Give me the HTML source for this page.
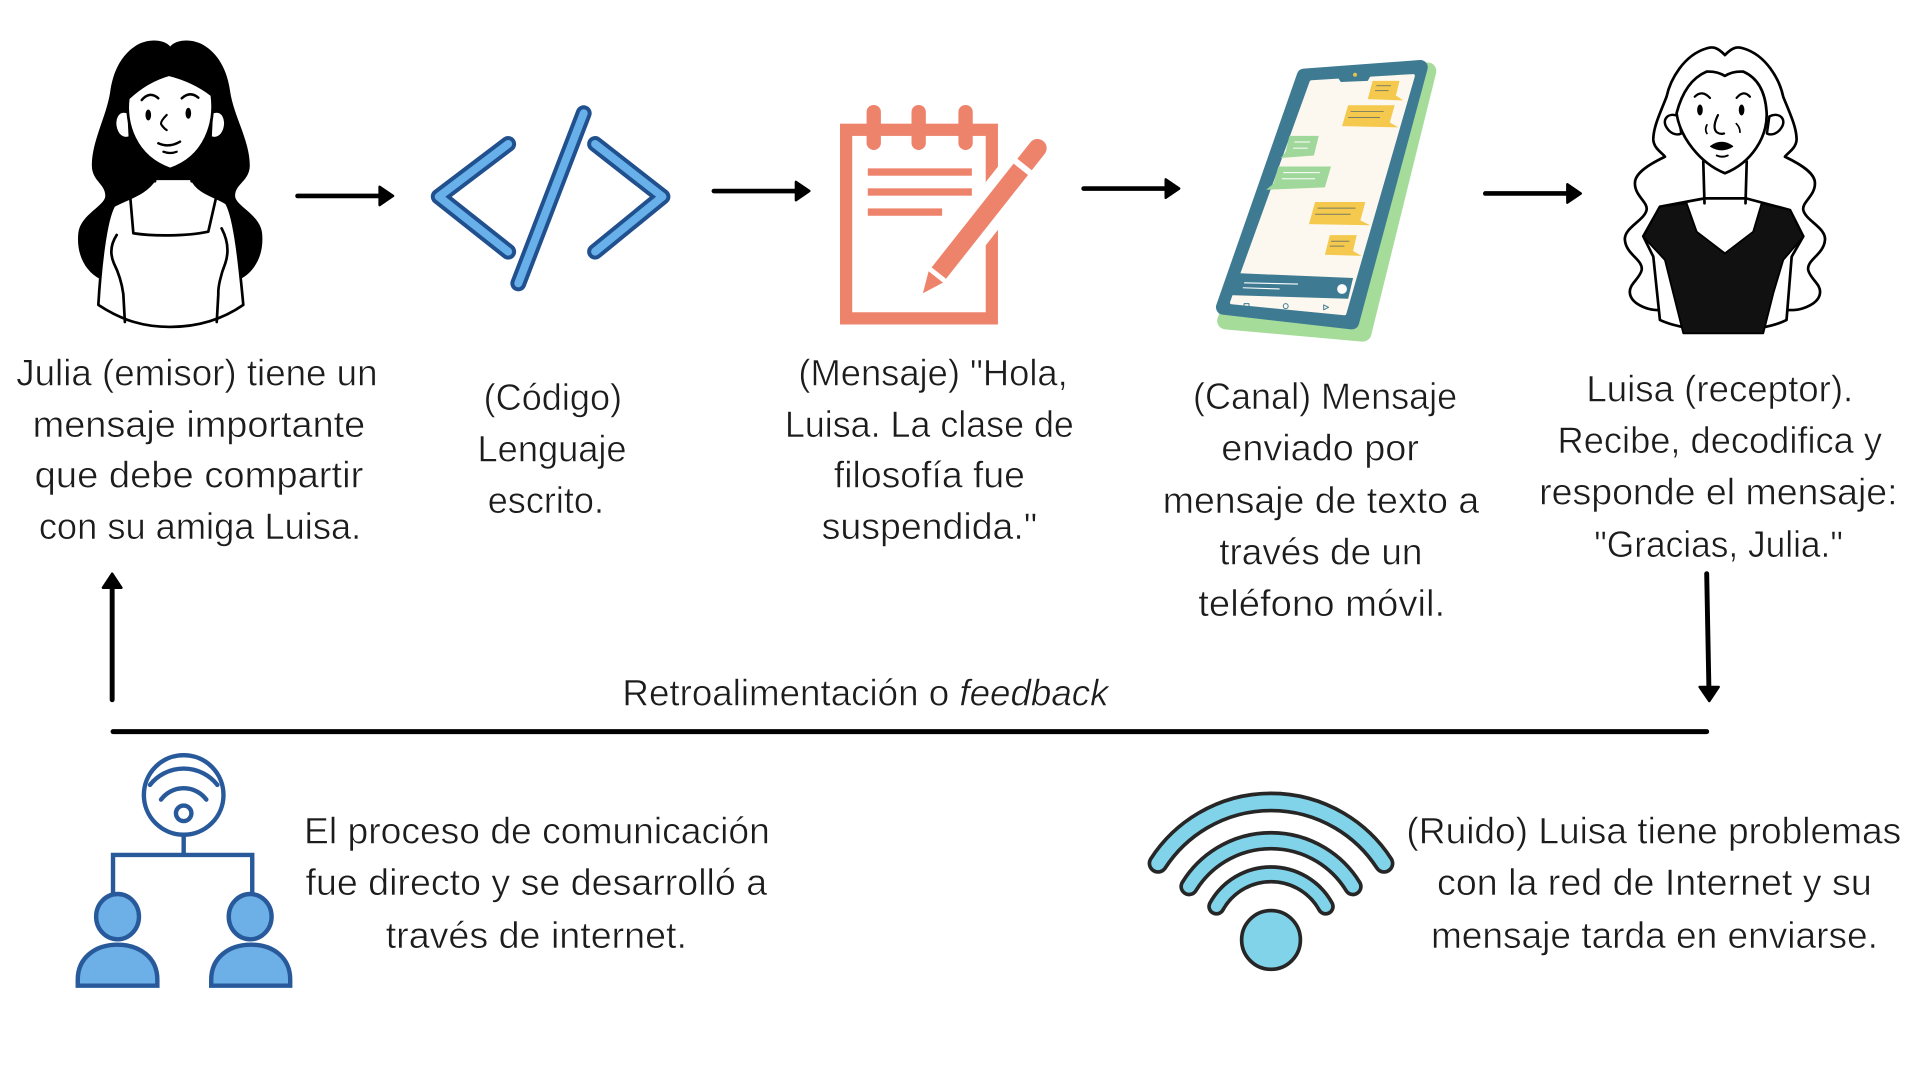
<!DOCTYPE html>
<html>
<head>
<meta charset="utf-8">
<style>
  html,body{margin:0;padding:0;background:#fff;}
  svg{display:block;}
  .t{font-family:"Liberation Sans","DejaVu Sans",sans-serif;font-size:30px;fill:#1c1c1c;stroke:#fff;stroke-width:0.45px;paint-order:fill stroke;}
</style>
</head>
<body>
<svg width="1920" height="1080" viewBox="0 0 1568 882" xmlns="http://www.w3.org/2000/svg">
<rect x="0" y="0" width="1568" height="882" fill="#fff"/>

<!-- ===== Julia ===== -->
<g stroke-linecap="round" stroke-linejoin="round">
  <path d="M139 38 C134 32,120 31,110 38 C98 46,92 60,90 75 C87 95,75 115,75 135 C75 148,86 150,86 160 C86 168,66 175,64 190 C62 208,70 222,82 228 L196 228 C208 222,216 208,214 190 C212 175,192 168,192 160 C192 150,204 148,204 135 C204 115,191 95,188 75 C186 60,180 46,168 38 C158 31,144 32,139 38 Z" fill="#000"/>
  <path d="M126.6 146 C120 158,104 162,93 168 C86 180,82 220,80.3 249 C100 262,118 267,138.8 267 C160 267,180 262,198.7 249 C196 220,192 178,185 166 C176 160,162 158,156.5 146 Z" fill="#fff" stroke="#000" stroke-width="2.2"/>
  <path d="M106.2 159 L108.9 190.5 C125 193,152 193,170.1 189.2 L177 159" fill="none" stroke="#000" stroke-width="2.2"/>
  <path d="M95.3 191.9 C90 200,90 208,93 215 C98 225,100 235,100.7 240 L102 263" fill="none" stroke="#000" stroke-width="2.2"/>
  <path d="M181 186.5 C186 196,187 206,184 215 C180 225,178 235,178.3 240 L177 263" fill="none" stroke="#000" stroke-width="2.2"/>
  <path d="M105 92 C96 88,92 98,95 106 C97 112,102 114,106 112 Z" fill="#fff" stroke="#000" stroke-width="2"/>
  <path d="M173 92 C182 88,186 98,183 106 C181 112,176 114,172 112 Z" fill="#fff" stroke="#000" stroke-width="2"/>
  <path d="M127 128 L126.6 148" stroke="#000" stroke-width="2.2" fill="none"/>
  <path d="M156 128 L156.5 148" stroke="#000" stroke-width="2.2" fill="none"/>
  <path d="M104.8 80.3 Q120 66,138 61 Q158 66,173 77.6 C176 100,168 128,139 138 C110 128,102 100,104.8 80.3 Z" fill="#fff" stroke="#000" stroke-width="2.2"/>
  <path d="M115.7 81.7 Q122.5 74,129.3 80.3" fill="none" stroke="#000" stroke-width="2"/>
  <path d="M148.4 80.3 Q155.2 74,162 79.8" fill="none" stroke="#000" stroke-width="2"/>
  <ellipse cx="121.1" cy="93.9" rx="2.3" ry="4.5" fill="#000"/>
  <ellipse cx="153.8" cy="92.5" rx="2.3" ry="4.5" fill="#000"/>
  <path d="M136.1 93.9 Q130 100,132 102.1 Q134 105,136.1 106.2" fill="none" stroke="#000" stroke-width="1.8"/>
  <path d="M129.3 117 Q138 121,147 115.7" fill="none" stroke="#000" stroke-width="2"/>
  <path d="M133.4 123.9 Q139 126,144.3 123.9" fill="none" stroke="#000" stroke-width="1.8"/>
</g>

<!-- ===== Arrows (horizontal) ===== -->
<g stroke="#000" stroke-linecap="round" stroke-linejoin="round">
  <line x1="243" y1="160" x2="312" y2="160" stroke-width="3.8"/>
  <polygon points="310,152.5 321,160 310,167.5" fill="#000" stroke-width="2"/>
  <line x1="583" y1="156" x2="652" y2="156" stroke-width="3.8"/>
  <polygon points="650,148.5 661,156 650,163.5" fill="#000" stroke-width="2"/>
  <line x1="885" y1="154" x2="954" y2="154" stroke-width="3.8"/>
  <polygon points="952,146.5 963,154 952,161.5" fill="#000" stroke-width="2"/>
  <line x1="1213" y1="158" x2="1282" y2="158" stroke-width="3.8"/>
  <polygon points="1280,150.5 1291,158 1280,165.5" fill="#000" stroke-width="2"/>
</g>

<!-- ===== Code icon ===== -->
<g fill="none" stroke-linecap="round" stroke-linejoin="round">
  <polyline points="415,117.6 358.3,160.6 415,205.5" stroke="#21508f" stroke-width="13"/>
  <polyline points="415,117.6 358.3,160.6 415,205.5" stroke="#68b0ea" stroke-width="6.5"/>
  <line x1="476.7" y1="92.5" x2="423.3" y2="231.4" stroke="#21508f" stroke-width="13"/>
  <line x1="476.7" y1="92.5" x2="423.3" y2="231.4" stroke="#68b0ea" stroke-width="6.5"/>
  <polyline points="486,117.6 541,160.6 486,205.5" stroke="#21508f" stroke-width="13"/>
  <polyline points="486,117.6 541,160.6 486,205.5" stroke="#68b0ea" stroke-width="6.5"/>
</g>

<!-- ===== Notepad ===== -->
<g fill="#ee836c">
  <rect x="691" y="106" width="119" height="154" fill="#fff" stroke="#ee836c" stroke-width="10"/>
  <rect x="707.7" y="85.7" width="11.7" height="36.8" rx="5.8"/>
  <rect x="744.4" y="85.7" width="11.7" height="36.8" rx="5.8"/>
  <rect x="782.7" y="85.7" width="11.7" height="36.8" rx="5.8"/>
  <rect x="708.7" y="137.5" width="85" height="6"/>
  <rect x="708.7" y="153.8" width="85" height="6"/>
  <rect x="708.7" y="170.2" width="60.7" height="6"/>
  <g transform="translate(753.7,239.5) rotate(-51.7)">
    <rect x="6" y="-16" width="158" height="32" rx="10" fill="#fff"/>
    <polygon points="0,0 17,-7.5 17,7.5"/>
    <rect x="21" y="-7.5" width="108" height="15"/>
    <path d="M134 -7.5 L151 -7.5 A7.5 7.5 0 0 1 151 7.5 L134 7.5 Z"/>
  </g>
</g>

<!-- ===== Phone ===== -->
<g stroke-linejoin="round">
  <polygon points="1069,66 1166,58 1113,272 1001,262" fill="#a6dc9a" stroke="#a6dc9a" stroke-width="14"/>
  <polygon points="1065,62 1160,55 1104,263 999,251" fill="#3e7b92" stroke="#3e7b92" stroke-width="12"/>
  <polygon points="1071,67 1154,62 1098,256 1006,247" fill="#fdf8ef" stroke="#fdf8ef" stroke-width="3"/>
  <polygon points="1091,61 1121,59 1117,66 1095,67" fill="#3e7b92"/>
  <circle cx="1106.6" cy="61" r="1.6" fill="#e8c34a"/>
  <polygon points="1121,66 1143,66 1140,78 1146,82 1117,81" fill="#f4c94d"/>
  <polygon points="1101,86 1139,86 1135,100 1142,104 1096,103" fill="#f4c94d"/>
  <polygon points="1053,111 1077,111 1073,127 1046,129 1050,124" fill="#a0d79b"/>
  <polygon points="1044,136 1087,136 1082,153 1034,155 1040,150" fill="#a0d79b"/>
  <polygon points="1074,165 1115,165 1111,180 1119,184 1069,183" fill="#f4c94d"/>
  <polygon points="1086,192 1108,192 1105,205 1112,209 1082,208" fill="#f4c94d"/>
  <g stroke="#5a6b6a" stroke-width="0.8" opacity="0.8">
    <line x1="1124" y1="70" x2="1136" y2="70"/><line x1="1123" y1="74" x2="1134" y2="74"/>
    <line x1="1103" y1="91" x2="1130" y2="91"/><line x1="1101" y1="96" x2="1127" y2="96"/>
    <line x1="1076" y1="170" x2="1107" y2="170"/><line x1="1074" y1="175" x2="1103" y2="175"/>
    <line x1="1087" y1="197" x2="1102" y2="197"/><line x1="1086" y1="201" x2="1098" y2="201"/>
  </g>
  <g stroke="#fff" stroke-width="0.8">
    <line x1="1057" y1="116" x2="1070" y2="116"/><line x1="1056" y1="121" x2="1068" y2="121"/>
    <line x1="1048" y1="141" x2="1078" y2="141"/><line x1="1047" y1="146" x2="1074" y2="146"/>
  </g>
  <polygon points="1008,223 1105,227 1101,244 1004,241" fill="#3e7b92"/>
  <line x1="1016" y1="231" x2="1060" y2="232" stroke="#fff" stroke-width="0.9"/>
  <line x1="1015" y1="235" x2="1045" y2="236" stroke="#fff" stroke-width="0.9"/>
  <circle cx="1096" cy="236" r="4" fill="#fff"/>
  <rect x="1016" y="248" width="4" height="3" fill="none" stroke="#3e7b92" stroke-width="0.8"/>
  <circle cx="1050" cy="250" r="2" fill="none" stroke="#3e7b92" stroke-width="0.8"/>
  <path d="M1081 249 L1085 251 L1081 253 Z" fill="none" stroke="#3e7b92" stroke-width="0.8"/>
</g>

<!-- ===== Luisa ===== -->
<g stroke="#000" stroke-linecap="round" stroke-linejoin="round">
  <path d="M1408.7 45 C1402 38,1398 38,1393.7 39.5 C1375 45,1364 65,1361 79 C1356 92,1350 104,1350.2 114.3 C1351 122,1358 125,1359.7 128 C1345 135,1335 142,1335.2 149.7 C1335 160,1346 165,1344.7 171.5 C1343 180,1326 186,1327 196 C1328 208,1342 212,1340.7 220.5 C1339 228,1330 232,1331.1 239.5 C1332 248,1345 253,1352.9 253.2 L1464.5 253.2 C1472.4 253,1485.4 248,1486.3 239.5 C1487.4 232,1478.4 228,1476.7 220.5 C1475.4 212,1489.4 208,1490.4 196 C1491.4 186,1474.4 180,1472.7 171.5 C1471.4 165,1482.4 160,1482.2 149.7 C1482.4 142,1472.4 135,1457.7 128 C1459.4 125,1466.4 122,1467.2 114.3 C1467.4 104,1461.4 92,1456.3 79 C1453.4 65,1442.4 45,1423.7 39.5 C1419.4 38,1415.4 38,1408.7 45 Z" fill="#fff" stroke-width="2.2"/>
  <path d="M1342 193 L1350.2 209.6 L1355.6 261.3 C1380 273,1437 273,1459 261.3 L1463.2 209.6 L1472.7 193 L1461.8 171.5 L1426 162 L1392 162 L1355.6 168.8 Z" fill="#fff" stroke-width="2.2"/>
  <polygon points="1355.6,168.8 1377.4,166 1385.6,189.2 1408.7,206.9 1431.8,189.2 1438.7,166 1461.8,171.5 1472.7,193.3 1456.3,212.3 1448.2,239.5 1440,272.2 1374.7,272.2 1366.5,239.5 1359.7,212.3 1342,193.3" fill="#111" stroke-width="1.5"/>
  <path d="M1391 132 L1392 166" fill="none" stroke-width="2.2"/>
  <path d="M1426.5 132 L1425.5 166" fill="none" stroke-width="2.2"/>
  <path d="M1371 95 C1362 91,1357 98,1361 104 C1364 109,1369 111,1373 109 Z" fill="#fff" stroke-width="2"/>
  <path d="M1445 95 C1454 91,1459 98,1455 104 C1452 109,1447 111,1443 109 Z" fill="#fff" stroke-width="2"/>
  <path d="M1369.2 92.5 Q1376 66,1393.7 58.5 Q1402 58,1408.7 62 Q1415 58,1423.7 58.5 Q1441 66,1442.7 91.2 C1444 112,1430 133,1408.7 141.5 C1388 133,1372 112,1369.2 92.5 Z" fill="#fff" stroke-width="2.2"/>
  <path d="M1384 79 Q1390 73,1396.5 80" fill="none" stroke-width="1.8"/>
  <path d="M1418.2 80 Q1424 73,1429.1 79" fill="none" stroke-width="1.8"/>
  <ellipse cx="1388.3" cy="89.8" rx="2.3" ry="4.5" fill="#000" stroke="none"/>
  <ellipse cx="1422.3" cy="89.8" rx="2.3" ry="4.5" fill="#000" stroke="none"/>
  <path d="M1403 94 Q1398 104,1402 108 Q1405 110,1408 109" fill="none" stroke-width="1.8"/>
  <path d="M1394 102 Q1392 106,1394 109" fill="none" stroke-width="1.4"/>
  <path d="M1418 101 Q1421 104,1421 108" fill="none" stroke-width="1.4"/>
  <path d="M1397 119.5 Q1406 113,1415 119.5 Q1406 125,1397 119.5 Z" fill="#000" stroke-width="1"/>
  <path d="M1402 127 Q1406.5 129,1411 127" fill="none" stroke-width="1.6"/>
</g>

<!-- ===== Text ===== -->
<g>
  <text class="t" x="13.3" y="315" textLength="295" lengthAdjust="spacingAndGlyphs">Julia (emisor) tiene un</text>
  <text class="t" x="26.7" y="357" textLength="271.6" lengthAdjust="spacingAndGlyphs">mensaje importante</text>
  <text class="t" x="28.3" y="398" textLength="268.4" lengthAdjust="spacingAndGlyphs">que debe compartir</text>
  <text class="t" x="31.7" y="440" textLength="263.3" lengthAdjust="spacingAndGlyphs">con su amiga Luisa.</text>

  <text class="t" x="395" y="335" textLength="113" lengthAdjust="spacingAndGlyphs">(Código)</text>
  <text class="t" x="390" y="377" textLength="121.7" lengthAdjust="spacingAndGlyphs">Lenguaje</text>
  <text class="t" x="398.3" y="419" textLength="95" lengthAdjust="spacingAndGlyphs">escrito.</text>

  <text class="t" x="652" y="315" textLength="220" lengthAdjust="spacingAndGlyphs">(Mensaje) "Hola,</text>
  <text class="t" x="641" y="357" textLength="236" lengthAdjust="spacingAndGlyphs">Luisa. La clase de</text>
  <text class="t" x="681" y="398" textLength="156" lengthAdjust="spacingAndGlyphs">filosofía fue</text>
  <text class="t" x="671" y="440" textLength="176" lengthAdjust="spacingAndGlyphs">suspendida."</text>

  <text class="t" x="974.3" y="334" textLength="215.7" lengthAdjust="spacingAndGlyphs">(Canal) Mensaje</text>
  <text class="t" x="997.4" y="376" textLength="161.4" lengthAdjust="spacingAndGlyphs">enviado por</text>
  <text class="t" x="949.6" y="419" textLength="258.4" lengthAdjust="spacingAndGlyphs">mensaje de texto a</text>
  <text class="t" x="995.7" y="461" textLength="166" lengthAdjust="spacingAndGlyphs">través de un</text>
  <text class="t" x="978.6" y="503" textLength="201.6" lengthAdjust="spacingAndGlyphs">teléfono móvil.</text>

  <text class="t" x="1295.5" y="328" textLength="218" lengthAdjust="spacingAndGlyphs">Luisa (receptor).</text>
  <text class="t" x="1272" y="370" textLength="265" lengthAdjust="spacingAndGlyphs">Recibe, decodifica y</text>
  <text class="t" x="1257" y="412" textLength="292.7" lengthAdjust="spacingAndGlyphs">responde el mensaje:</text>
  <text class="t" x="1302" y="455" textLength="203" lengthAdjust="spacingAndGlyphs">"Gracias, Julia."</text>

  <text class="t" x="508.3" y="576" textLength="397" lengthAdjust="spacingAndGlyphs">Retroalimentación o <tspan font-style="italic">feedback</tspan></text>

  <text class="t" x="248.3" y="689" textLength="380.4" lengthAdjust="spacingAndGlyphs">El proceso de comunicación</text>
  <text class="t" x="249.5" y="731" textLength="377" lengthAdjust="spacingAndGlyphs">fue directo y se desarrolló a</text>
  <text class="t" x="315" y="774" textLength="246" lengthAdjust="spacingAndGlyphs">través de internet.</text>

  <text class="t" x="1148.6" y="689" textLength="404" lengthAdjust="spacingAndGlyphs">(Ruido) Luisa tiene problemas</text>
  <text class="t" x="1173.6" y="731" textLength="355" lengthAdjust="spacingAndGlyphs">con la red de Internet y su</text>
  <text class="t" x="1168.6" y="774" textLength="365" lengthAdjust="spacingAndGlyphs">mensaje tarda en enviarse.</text>
</g>

<!-- ===== Feedback arrows & line ===== -->
<g stroke="#000" stroke-linecap="round" stroke-linejoin="round">
  <line x1="91.6" y1="571.5" x2="91.6" y2="478" stroke-width="4"/>
  <polygon points="84,480 91.6,468.5 99.2,480" fill="#000" stroke-width="2"/>
  <line x1="1393.8" y1="468.5" x2="1395.6" y2="562" stroke-width="4"/>
  <polygon points="1388,561 1395.9,572.5 1403.6,561" fill="#000" stroke-width="2"/>
  <line x1="92.3" y1="597.5" x2="1393.8" y2="597.5" stroke-width="4"/>
</g>

<!-- ===== Network icon ===== -->
<g stroke="#285a9b" stroke-width="3.6" stroke-linecap="round" stroke-linejoin="round">
  <circle cx="150" cy="649.2" r="32.5" fill="#fff"/>
  <path d="M122.5 641 A35 35 0 0 1 177.5 641" fill="none"/>
  <path d="M131.5 653 A23 23 0 0 1 168.5 653" fill="none"/>
  <circle cx="150" cy="664.2" r="6.3" fill="none"/>
  <line x1="150" y1="681.7" x2="150" y2="698.2" stroke-linecap="butt"/>
  <polyline points="92.3,729.5 92.3,698.2 206,698.2 206,729.5" fill="none" stroke-linecap="butt" stroke-linejoin="miter"/>
  <ellipse cx="96" cy="748.6" rx="17.5" ry="18.5" fill="#6cb0e7"/>
  <ellipse cx="204.3" cy="748.6" rx="17.5" ry="18.5" fill="#6cb0e7"/>
  <path d="M63.5 805 L63.5 800 C63.5 782,78 771.5,96 771.5 C114 771.5,128.5 782,128.5 800 L128.5 805 Z" fill="#6cb0e7" stroke-linejoin="miter"/>
  <path d="M172.5 805 L172.5 800 C172.5 782,187 771.5,205 771.5 C223 771.5,237 782,237 800 L237 805 Z" fill="#6cb0e7" stroke-linejoin="miter"/>
</g>

<!-- ===== WiFi ===== -->
<g fill="none" stroke-linecap="round">
  <path d="M945.7 705.1 A110 110 0 0 1 1130.3 705.1" stroke="#262626" stroke-width="17"/>
  <path d="M945.7 705.1 A110 110 0 0 1 1130.3 705.1" stroke="#80d3e9" stroke-width="11"/>
  <path d="M971.1 724 A78.5 78.5 0 0 1 1104.9 724" stroke="#262626" stroke-width="16"/>
  <path d="M971.1 724 A78.5 78.5 0 0 1 1104.9 724" stroke="#80d3e9" stroke-width="10"/>
  <path d="M993.4 740.3 A51 51 0 0 1 1082.6 740.3" stroke="#262626" stroke-width="15"/>
  <path d="M993.4 740.3 A51 51 0 0 1 1082.6 740.3" stroke="#80d3e9" stroke-width="9"/>
  <circle cx="1038" cy="767.6" r="24" fill="#80d3e9" stroke="#262626" stroke-width="3"/>
</g>
</svg>
</body>
</html>
